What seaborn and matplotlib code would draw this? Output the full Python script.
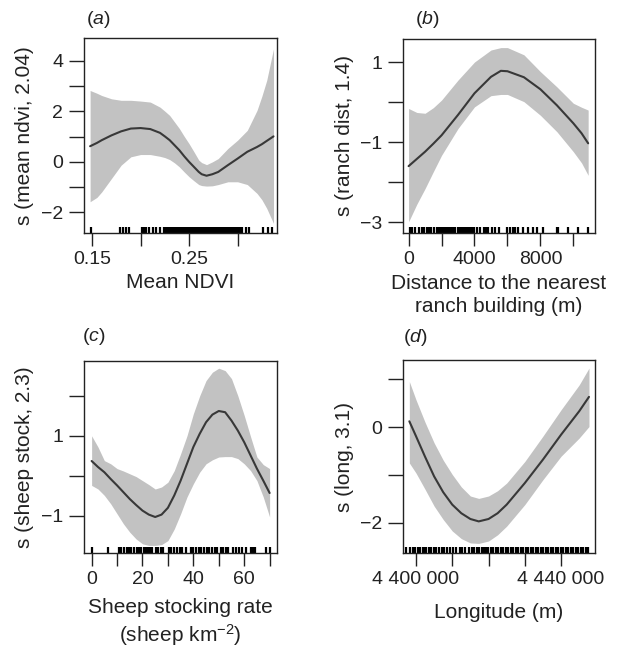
import numpy as np
import pandas as pd
import matplotlib
matplotlib.use("Agg")
import matplotlib.pyplot as plt
import seaborn as sns

# ---- panel (a): mean NDVI ----
ndvi_x = [0.148, 0.155, 0.16, 0.17, 0.18, 0.19, 0.20, 0.21, 0.22, 0.225, 0.23, 0.235,
          0.24, 0.245, 0.25, 0.255, 0.26, 0.263, 0.268, 0.274, 0.28, 0.29, 0.30,
          0.31, 0.32, 0.325, 0.33, 0.337]
ndvi_fit = [0.62, 0.75, 0.86, 1.05, 1.21, 1.32, 1.34, 1.30, 1.15, 1.01, 0.86, 0.66,
            0.46, 0.22, 0.0, -0.20, -0.40, -0.49, -0.55, -0.49, -0.40, -0.13, 0.13,
            0.40, 0.59, 0.70, 0.83, 1.01]
ndvi_hi = [2.83, 2.72, 2.63, 2.50, 2.44, 2.44, 2.41, 2.37, 2.17, 2.01, 1.84, 1.58,
           1.32, 1.01, 0.72, 0.40, 0.07, -0.03, -0.11, 0.0, 0.13, 0.53, 0.86,
           1.25, 2.04, 2.60, 3.23, 4.48]
ndvi_lo = [-1.58, -1.41, -1.19, -0.66, -0.13, 0.20, 0.29, 0.29, 0.22, 0.17, 0.09, -0.04,
           -0.20, -0.40, -0.59, -0.75, -0.90, -0.94, -0.96, -0.95, -0.90, -0.79, -0.79,
           -0.90, -1.25, -1.50, -1.84, -2.44]
ndvi_rug = [0.149, 0.179, 0.1816, 0.1847, 0.188, 0.201, 0.2025, 0.204, 0.2055,
            0.209, 0.2131, 0.2163, 0.2198, 0.2243, 0.226, 0.2278, 0.229, 0.231,
            0.2325, 0.234, 0.2358, 0.237, 0.239, 0.2405, 0.242, 0.2438, 0.245,
            0.247, 0.2485, 0.25, 0.2515, 0.253, 0.2548, 0.256, 0.258, 0.2595,
            0.261, 0.2628, 0.264, 0.266, 0.2675, 0.269, 0.2708, 0.272, 0.274,
            0.2755, 0.277, 0.2788, 0.28, 0.282, 0.2835, 0.285, 0.2868, 0.288,
            0.29, 0.2915, 0.293, 0.2948, 0.296, 0.298, 0.2995, 0.301, 0.3028,
            0.3049, 0.3083, 0.3118, 0.3257, 0.331, 0.3354]

# ---- panel (b): distance to ranch building ----
ranch_x = [0, 500, 1000, 1500, 2000, 3000, 4000, 5000, 5600, 6000, 7000, 8000,
           9000, 10000, 10500, 10900]
ranch_fit = [-1.60, -1.42, -1.24, -1.04, -0.83, -0.32, 0.22, 0.63, 0.78, 0.77,
             0.62, 0.32, -0.08, -0.53, -0.78, -1.03]
ranch_hi = [-0.16, -0.26, -0.28, -0.14, 0.05, 0.55, 1.00, 1.30, 1.36, 1.36,
            1.18, 0.76, 0.38, -0.03, -0.13, -0.20]
ranch_lo = [-2.99, -2.55, -2.16, -1.74, -1.33, -0.66, -0.12, 0.16, 0.19, 0.19,
            0.01, -0.33, -0.74, -1.24, -1.52, -1.83]
ranch_rug = [62, 204, 406, 608, 810, 950, 1100, 1250, 1380, 1517, 1720, 1850, 1980,
             2100, 2230, 2350, 2480, 2600, 2720, 2830, 2970, 3100, 3220, 3350, 3470,
             3600, 3720, 3850, 3970, 4140, 4345, 4550, 4710, 4850, 5050, 5250, 5460,
             5960, 6160, 6320, 6470, 6670, 6930, 7270, 7540, 7820, 8140, 8990, 9090,
             9700, 10300, 10910]

# ---- panel (c): sheep stocking rate ----
sheep_x = [0, 2.5, 5, 7.5, 10, 12.5, 15, 17.5, 20, 22.5, 25, 27.5, 30, 32.5, 35,
           37.5, 40, 42.5, 45, 47.5, 50, 52.5, 55, 57.5, 60, 62.5, 65, 67.5, 70]
sheep_fit = [0.37, 0.22, 0.09, -0.08, -0.24, -0.41, -0.58, -0.73, -0.87, -0.97,
             -1.03, -0.97, -0.80, -0.49, -0.12, 0.30, 0.72, 1.05, 1.34, 1.53,
             1.62, 1.59, 1.38, 1.13, 0.84, 0.51, 0.18, -0.12, -0.43]
sheep_hi = [1.00, 0.72, 0.38, 0.30, 0.18, 0.12, 0.05, -0.02, -0.12, -0.22,
            -0.33, -0.28, -0.16, 0.13, 0.55, 1.00, 1.55, 2.00, 2.38, 2.59,
            2.69, 2.63, 2.43, 2.00, 1.51, 0.98, 0.47, 0.28, 0.18]
sheep_lo = [-0.24, -0.33, -0.49, -0.70, -0.95, -1.20, -1.41, -1.58, -1.70, -1.74,
            -1.74, -1.72, -1.62, -1.33, -0.95, -0.53, -0.20, 0.09, 0.30, 0.40,
            0.47, 0.48, 0.48, 0.43, 0.30, 0.13, -0.12, -0.53, -1.03]
sheep_rug = [0, 6.4, 10.7, 11.7, 12.7, 13.8, 14.7, 15.6, 16.7, 17.7, 18.6, 19.5,
             20.6, 21.3, 21.8, 22.3, 22.9, 23.4, 23.9, 25.2, 26.1, 27.2, 28.2, 30.4,
             31.1, 32.4, 33.7, 34.8, 35.7, 37.0, 39.0, 40.0, 40.9, 42.2, 43.2, 44.2,
             45.3, 46.2, 47.5, 48.4, 49.5, 50.8, 51.8, 52.7, 53.7, 55.4, 56.7, 58.0,
             59.3, 60.6, 62.6, 63.2, 63.8, 64.2, 68.5, 70.2]

# ---- panel (d): longitude ----
long_x = [4398170, 4400000, 4402500, 4405000, 4407500, 4410000, 4412500, 4415000,
          4417300, 4420000, 4422500, 4425000, 4430000, 4435000, 4440000, 4445000, 4447700]
long_fit = [0.12, -0.19, -0.62, -1.03, -1.36, -1.62, -1.80, -1.92, -1.97, -1.92,
            -1.80, -1.62, -1.17, -0.68, -0.16, 0.33, 0.63]
long_hi = [0.95, 0.57, 0.10, -0.33, -0.69, -0.99, -1.25, -1.44, -1.49, -1.44,
           -1.33, -1.17, -0.72, -0.19, 0.36, 0.88, 1.23]
long_lo = [-0.75, -0.96, -1.30, -1.65, -1.93, -2.17, -2.33, -2.42, -2.43, -2.38,
           -2.25, -2.07, -1.62, -1.10, -0.61, -0.23, 0.01]
long_rug = [4397330, 4398250, 4399165, 4399810, 4400450, 4401180, 4401920, 4402280,
            4402830, 4403480, 4404120, 4404850, 4405590, 4406230, 4407150, 4407790,
            4408520, 4409440, 4410170, 4411090, 4412010, 4412650, 4413570, 4414490,
            4415400, 4416040, 4416780, 4417510, 4418150, 4418800, 4419350, 4419990,
            4420630, 4421370, 4422100, 4422740, 4423380, 4424120, 4424850, 4425490,
            4426140, 4426870, 4427600, 4428250, 4428890, 4429620, 4430360, 4431000,
            4431640, 4432370, 4433110, 4433750, 4434390, 4435120, 4435860, 4436500,
            4437140, 4437880, 4438610, 4439250, 4439900, 4440630, 4441360, 4442000,
            4442650, 4443380, 4444120, 4444760, 4445400, 4446130, 4446870, 4447510]

sns.set_style("ticks")
plt.rcParams['font.family'] = ['Liberation Sans', 'DejaVu Sans']
plt.rcParams['mathtext.fontset'] = 'custom'
plt.rcParams['mathtext.rm'] = 'Liberation Sans'
plt.rcParams['mathtext.it'] = 'Liberation Sans:italic'
plt.rcParams['axes.unicode_minus'] = True

BAND = '#c2c2c2'
LINE = '#383838'
INK = '#222222'

W, H = 617, 647
fig = plt.figure(figsize=(W / 100, H / 100), dpi=100)

# box = (left, top, right, bottom) in pixels of the finished image
panels = [
    dict(box=(84, 38, 277, 233), x=ndvi_x, fit=ndvi_fit, hi=ndvi_hi, lo=ndvi_lo, rug=ndvi_rug,
         xlim=(0.1417, 0.3406), ylim=(-2.82, 4.91),
         xticks=[0.15, 0.20, 0.25, 0.30], xlabels=['0.15', '', '0.25', ''],
         yticks=[-2, -1, 0, 1, 2, 3, 4], ylabels=['\u22122', '', '0', '', '2', '', '4'],
         ylab='s (mean ndvi, 2.04)', xlab='Mean NDVI', xlab_off=50,
         letter='a', letter_pos=(86, 20)),
    dict(box=(403, 39, 595, 233), x=ranch_x, fit=ranch_fit, hi=ranch_hi, lo=ranch_lo, rug=ranch_rug,
         xlim=(-340, 11315), ylim=(-3.27, 1.575),
         xticks=[0, 2000, 4000, 6000, 8000, 10000], xlabels=['0', '', '4000', '', '8000', ''],
         yticks=[-3, -2, -1, 0, 1], ylabels=['\u22123', '', '\u22121', '', '1'],
         ylab='s (ranch dist, 1.4)', xlab='Distance to the nearest\nranch building (m)', xlab_off=62,
         letter='b', letter_pos=(415, 20)),
    dict(box=(84, 361, 277, 553), x=sheep_x, fit=sheep_fit, hi=sheep_hi, lo=sheep_lo, rug=sheep_rug,
         xlim=(-3.0, 72.9), ylim=(-1.93, 2.87),
         xticks=[0, 10, 20, 30, 40, 50, 60, 70], xlabels=['0', '', '20', '', '40', '', '60', ''],
         yticks=[-1, 0, 1, 2], ylabels=['\u22121', '', '1', ''],
         ylab='s (sheep stock, 2.3)', xlab='Sheep stocking rate\n(sheep km$^{-2}$)', xlab_off=70,
         letter='c', letter_pos=(82, 337)),
    dict(box=(403, 360, 595, 553), x=long_x, fit=long_fit, hi=long_hi, lo=long_lo, rug=long_rug,
         xlim=(4396420, 4449360), ylim=(-2.63, 1.40),
         xticks=[4400000, 4410000, 4420000, 4430000, 4440000],
         xlabels=['4 400 000', '', '', '', '4 440 000'],
         yticks=[-2, -1, 0, 1], ylabels=['\u22122', '', '0', ''],
         ylab='s (long, 3.1)', xlab='Longitude (m)', xlab_off=59,
         letter='d', letter_pos=(403, 338)),
]

for p in panels:
    l, t, r, b = p['box']
    ax = fig.add_axes([l / W, 1 - b / H, (r - l) / W, (b - t) / H])
    ax.fill_between(p['x'], p['lo'], p['hi'], color=BAND, linewidth=0)
    df = pd.DataFrame({'x': p['x'], 'fit': p['fit']})
    sns.lineplot(data=df, x='x', y='fit', ax=ax, color=LINE, linewidth=1.5,
                 estimator=None, sort=True)
    sns.rugplot(x=p['rug'], ax=ax, height=0.03, color='#000000', linewidth=1.6,
                expand_margins=False)
    ax.set_xlim(*p['xlim'])
    ax.set_ylim(*p['ylim'])
    ax.set_xticks(p['xticks'])
    ax.set_xticklabels(p['xlabels'])
    ax.set_yticks(p['yticks'])
    ax.set_yticklabels(p['ylabels'])
    for s in ax.spines.values():
        s.set_visible(True)
        s.set_color(INK)
        s.set_linewidth(1.0)
    ax.tick_params(axis='x', length=9, width=1, color=INK, pad=4, labelsize=14, labelcolor=INK)
    ax.tick_params(axis='y', length=11, width=1, color=INK, pad=4, labelsize=14, labelcolor=INK)
    ax.set_ylabel(p['ylab'], fontsize=15, color=INK, va='center')
    ax.yaxis.set_label_coords(-59 / (r - l), 0.5)
    ax.set_xlabel(p['xlab'], fontsize=15, color=INK, va='center', linespacing=1.3)
    ax.xaxis.set_label_coords(0.5, -p['xlab_off'] / (b - t))
    lx, ly = p['letter_pos']
    fig.text(lx / W, 1 - ly / H, '($\\mathit{%s}$)' % p['letter'], fontsize=14,
             color=INK, ha='left', va='center')

fig.savefig('out.png', dpi=100)
